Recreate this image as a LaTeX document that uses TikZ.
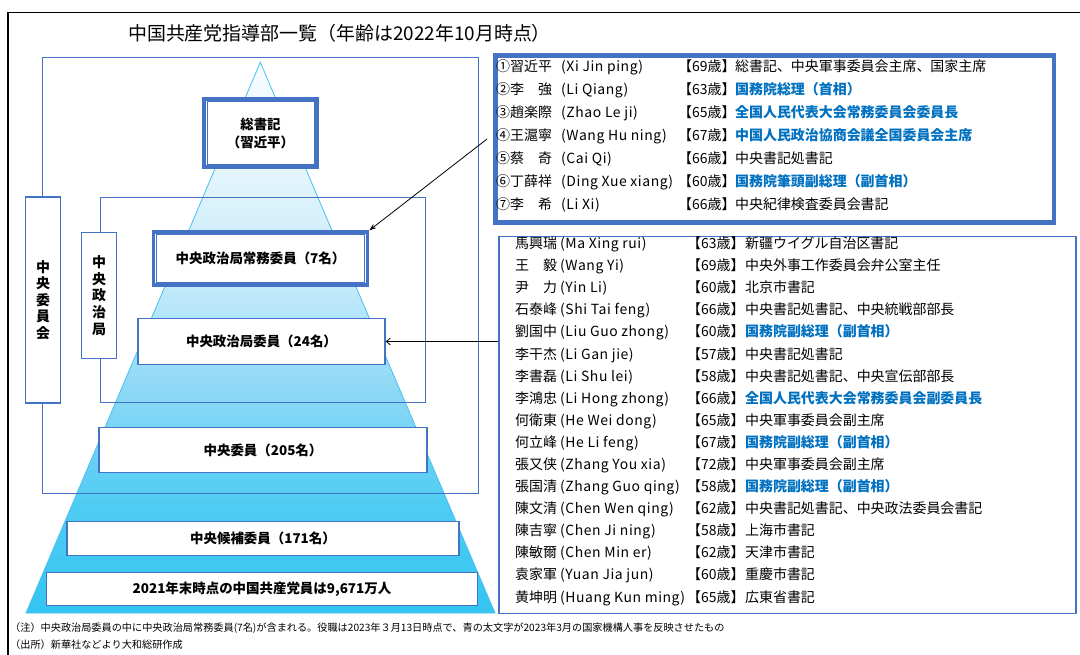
\documentclass[tikz,border=0pt]{standalone}
\usepackage{fontspec}
\setmainfont{Noto Sans CJK JP}
\usepackage{graphicx}
\usetikzlibrary{arrows.meta}
\definecolor{bblue}{RGB}{68,114,196}
\definecolor{rblue}{RGB}{0,112,192}
\definecolor{pyrLine}{RGB}{70,192,240}
\definecolor{pyrA}{RGB}{51,197,241}
\definecolor{pyrB}{RGB}{80,204,243}
\definecolor{pyrC}{RGB}{140,216,246}
\definecolor{pyrD}{RGB}{196,234,250}
\definecolor{pyrE}{RGB}{228,245,252}
\definecolor{pyrF}{RGB}{248,252,255}
\pgfdeclareverticalshading{pyrshade}{100bp}{color(0bp)=(pyrA); color(25bp)=(pyrA); color(35bp)=(pyrB); color(45bp)=(pyrC); color(55bp)=(pyrD); color(65bp)=(pyrE); color(75bp)=(pyrF); color(100bp)=(pyrF)}
\newcommand{\myfs}[1]{\fontsize{#1}{#1}\selectfont}
\begin{document}
\begin{tikzpicture}[x=1bp,y=-1bp,
  box/.style={draw=bblue, line width=1.5bp, fill=white, inner sep=0, font=\bfseries\myfs{13.5}},
  dbox/.style={draw=bblue, line width=3.5bp, fill=white, inner sep=0, align=center, font=\bfseries\fontsize{13.5}{18}\selectfont},
  inline/.style={draw=bblue, line width=0.8bp},
  vlabel/.style={draw=bblue, line width=1.5bp, fill=white, inner sep=0, align=center, font=\bfseries\fontsize{14}{16.7}\selectfont},
  frame/.style={draw=bblue, line width=1.5bp},
  cell/.style={anchor=base west, inner sep=0, font=\myfs{14}},
  rom/.style={cell, font=\myfs{14}\addfontfeature{LetterSpace=4}},
  rolek/.style={cell},
  roleb/.style={cell, text=rblue, font=\bfseries\myfs{14}},
  arr/.style={draw=black, line width=0.8bp, -{Stealth[length=7bp,width=5bp]}},
  arrb/.style={draw=black, line width=0.8bp, -{Straight Barb[length=4bp,width=7bp]}}]
\useasboundingbox (0,0) rectangle (1080,655);
% outer frame
\draw[line width=1.2bp] (8,655) -- (8,12.5) -- (1080,12.5);
% title
\node[anchor=west, inner sep=0, font=\myfs{19}] (title) at (128,33) {中国共産党指導部一覧（年齢は2022年10月時点）};
% pyramid
\path[shading=pyrshade, draw=pyrLine, line width=0.8bp] (260.3,62.3) -- (495,613) -- (26,613) -- cycle;
% group rectangles
\draw[frame] (42.5,57.5) rectangle (478.5,493.5);
\draw[frame] (100.5,197.5) rectangle (425.5,402.5);
% vertical labels
\node[vlabel, minimum width=35, minimum height=207] (cc) at (43,300) {中\\央\\委\\員\\会};
\node[vlabel, minimum width=35, minimum height=126] (pb) at (99,295.5) {中\\央\\政\\治\\局};
% pyramid boxes
\node[dbox, minimum width=113, minimum height=68] (gs) at (260.5,133) {総書記\\（習近平）};
\draw[inline] ([shift={(4.5,4.5)}]gs.north west) rectangle ([shift={(-4.5,-4.5)}]gs.south east);
\node[dbox, minimum width=215, minimum height=53] (psc) at (260.5,258.5) {中央政治局常務委員（7名）};
\draw[inline] ([shift={(4.5,4.5)}]psc.north west) rectangle ([shift={(-4.5,-4.5)}]psc.south east);
\node[box, minimum width=248, minimum height=46] (pbm) at (261.5,341.5) {中央政治局委員（24名）};
\node[box, minimum width=329, minimum height=45] (ccm) at (263,450) {中央委員（205名）};
\node[box, minimum width=393, minimum height=34] (alt) at (263,538.5) {中央候補委員（171名）};
\node[box, minimum width=433, minimum height=33] (mem) at (262,589) {2021年末時点の中国共産党員は9,671万人};
% top right box
\node[draw=bblue, line width=3.5bp, inner sep=0, minimum width=561.5, minimum height=168.5] (topbox) at (774.5,139) {};
\draw[inline] ([shift={(4,4)}]topbox.north west) rectangle ([shift={(-4,-4)}]topbox.south east);
\foreach \pn/\pr/\pa/\pj/\ps [count=\i from 0] in {
 ①習近平/(Xi Jin ping)/69/総書記、中央軍事委員会主席、国家主席/rolek,
 ②李　強/(Li Qiang)/63/国務院総理（首相）/roleb,
 ③趙楽際/(Zhao Le ji)/65/全国人民代表大会常務委員会委員長/roleb,
 ④王滬寧/(Wang Hu ning)/67/中国人民政治協商会議全国委員会主席/roleb,
 ⑤蔡　奇/(Cai Qi)/66/中央書記処書記/rolek,
 ⑥丁薛祥/(Ding Xue xiang)/60/国務院筆頭副総理（副首相）/roleb,
 ⑦李　希/(Li Xi)/66/中央紀律検査委員会書記/rolek}{
  \pgfmathsetmacro\yy{66.7+22.88*\i+5.3}
  \node[cell, name=tn\i] at (496,\yy) {\pn};
  \node[rom, name=tr\i] at (561,\yy) {\pr};
  \node[cell, name=ta\i] at (678,\yy) {【\pa 歳】};
  \node[\ps, name=tj\i] at (735,\yy) {\pj};
}
% lower right box
\node[draw=bblue, line width=1.5bp, inner sep=0, minimum width=579.5, minimum height=378.5] (lowbox) at (787.5,425) {};
\foreach \pn/\pr/\pa/\pj/\ps [count=\i from 0] in {
 馬興瑞/(Ma Xing rui)/63/新疆ウイグル自治区書記/rolek,
 王　毅/(Wang Yi)/69/中央外事工作委員会弁公室主任/rolek,
 尹　力/(Yin Li)/60/北京市書記/rolek,
 石泰峰/(Shi Tai feng)/66/中央書記処書記、中央統戦部部長/rolek,
 劉国中/(Liu Guo zhong)/60/国務院副総理（副首相）/roleb,
 李干杰/(Li Gan jie)/57/中央書記処書記/rolek,
 李書磊/(Li Shu lei)/58/中央書記処書記、中央宣伝部部長/rolek,
 李鴻忠/(Li Hong zhong)/66/全国人民代表大会常務委員会副委員長/roleb,
 何衛東/(He Wei dong)/65/中央軍事委員会副主席/rolek,
 何立峰/(He Li feng)/67/国務院副総理（副首相）/roleb,
 張又侠/(Zhang You xia)/72/中央軍事委員会副主席/rolek,
 張国清/(Zhang Guo qing)/58/国務院副総理（副首相）/roleb,
 陳文清/(Chen Wen qing)/62/中央書記処書記、中央政法委員会書記/rolek,
 陳吉寧/(Chen Ji ning)/58/上海市書記/rolek,
 陳敏爾/(Chen Min er)/62/天津市書記/rolek,
 袁家軍/(Yuan Jia jun)/60/重慶市書記/rolek,
 黄坤明/(Huang Kun ming)/65/広東省書記/rolek}{
  \pgfmathsetmacro\yy{243.3+22.09*\i+5.3}
  \node[cell, name=ln\i] at (515,\yy) {\pn};
  \node[rom, name=lr\i] at (560,\yy) {\pr};
  \node[cell, name=la\i] at (687,\yy) {【\pa 歳】};
  \node[\ps, name=lj\i] at (745,\yy) {\pj};
}
% arrows
\draw[arr] ([xshift=-6bp]topbox.west) -- (psc.north east);
\draw[arrb] (lowbox.west |- pbm.east) -- (pbm.east);
% footnotes
\node[anchor=base west, inner sep=0, font=\myfs{10.2}] (note1) at (10,631) {（注）中央政治局委員の中に中央政治局常務委員(7名)が含まれる。役職は2023年３月13日時点で、青の太文字が2023年3月の国家機構人事を反映させたもの};
\node[anchor=base west, inner sep=0, font=\myfs{10.2}] (note2) at (10,648) {（出所）新華社などより大和総研作成};
\end{tikzpicture}
\end{document}
